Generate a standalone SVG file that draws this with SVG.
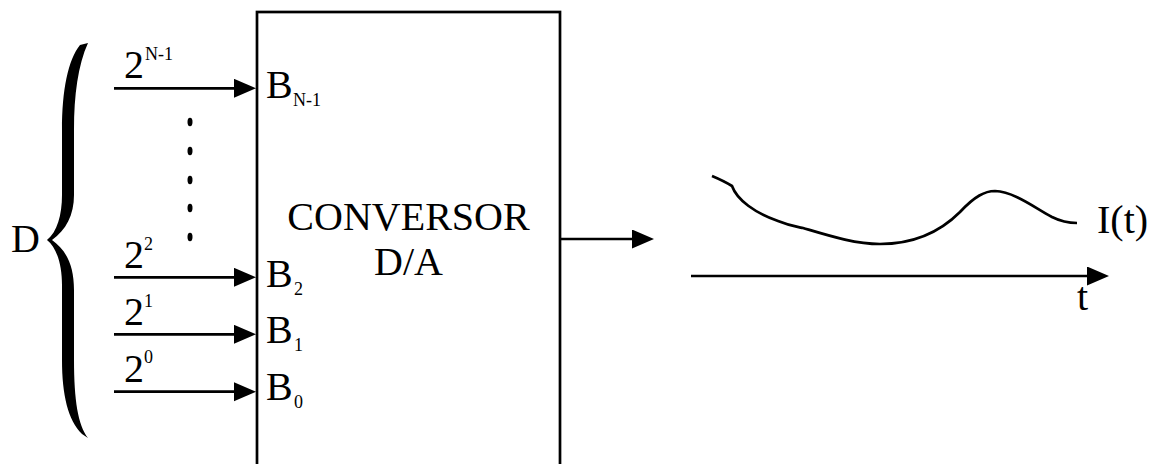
<svg xmlns="http://www.w3.org/2000/svg" width="1154" height="464" viewBox="0 0 1154 464">
  <style>
    text { font-family: Liberation Serif, "Times New Roman", Times, Tinos, "Nimbus Roman", "Noto Serif", FreeSerif, "DejaVu Serif", serif; fill: #000; }
    .big { font-size: 40px; }
    .small { font-size: 18px; }
    .wire { stroke: #000; stroke-width: 2.7; fill: none; }
  </style>
  <defs>
    <marker id="arrow" markerUnits="userSpaceOnUse" markerWidth="24" markerHeight="20" refX="14" refY="9.5" orient="auto">
      <path d="M0,0 L22,9.5 L0,19 Z" fill="#000"/>
    </marker>
  </defs>

  <rect width="1154" height="464" fill="#fff"/>

  <!-- brace grouping the input word D -->
  <g id="word-D">
    <path d="M80,45 C68,60 62,90 62,130 L62,195 C62,215 57,232 47,240 C57,248 62,265 62,285 L62,360 C62,395 68,420 82,434 L88,438 C78,425 74,400 74,360 L74,290 C74,265 66,250 52,240 C66,230 74,215 74,195 L74,130 C74,95 78,65 88,43 Z" fill="#000"/>
    <text class="big" x="11" y="252">D</text>
  </g>

  <!-- converter block -->
  <g id="converter">
    <rect x="257" y="12" width="303" height="470" fill="none" stroke="#000" stroke-width="2.7"/>
    <text class="big" x="408.5" y="230" text-anchor="middle">CONVERSOR</text>
    <text class="big" x="408.5" y="275" text-anchor="middle">D/A</text>
    <text class="big" x="266" y="98">B</text>
    <text class="small" x="293" y="106">N-1</text>
    <text class="big" x="266" y="287">B</text>
    <text class="small" x="294" y="295">2</text>
    <text class="big" x="266" y="343">B</text>
    <text class="small" x="294" y="351">1</text>
    <text class="big" x="266" y="400">B</text>
    <text class="small" x="294" y="408">0</text>
  </g>

  <!-- bit weights -->
  <g id="weights">
    <text class="big" x="124" y="78">2</text>
    <text class="small" x="145" y="60">N-1</text>
    <text class="big" x="124" y="268">2</text>
    <text class="small" x="144" y="250">2</text>
    <text class="big" x="124" y="325">2</text>
    <text class="small" x="144" y="307">1</text>
    <text class="big" x="124" y="382">2</text>
    <text class="small" x="144" y="363">0</text>
    <g fill="#000">
      <ellipse cx="190" cy="122" rx="2.5" ry="4.2"/>
      <ellipse cx="190" cy="151" rx="2.5" ry="4.2"/>
      <ellipse cx="190" cy="180" rx="2.5" ry="4.2"/>
      <ellipse cx="190" cy="208" rx="2.5" ry="4.2"/>
      <ellipse cx="190" cy="237" rx="2.5" ry="4.2"/>
    </g>
  </g>

  <!-- output signal plot -->
  <g id="output-signal">
    <path class="wire" stroke-width="2.5" d="M712,176 Q724,181 732,186 C737,200 755,213 778,221 C790,226 798,227 803,228 C830,236 855,244 880,244 C915,244 940,232 960,212 C975,196 985,191 995,191 C1015,192 1035,208 1052,217 C1062,222 1070,223 1077,223"/>
    <text class="big" x="1097" y="233">I(t)</text>
    <text class="big" x="1077" y="310">t</text>
  </g>

  <!-- connectors -->
  <g id="connectors">
    <line class="wire" x1="114" y1="88.3" x2="248" y2="88.3" marker-end="url(#arrow)"/>
    <line class="wire" x1="114" y1="277.3" x2="248" y2="277.3" marker-end="url(#arrow)"/>
    <line class="wire" x1="114" y1="334.3" x2="248" y2="334.3" marker-end="url(#arrow)"/>
    <line class="wire" x1="114" y1="391.7" x2="248" y2="391.7" marker-end="url(#arrow)"/>
    <line class="wire" x1="560" y1="239" x2="646" y2="239" marker-end="url(#arrow)"/>
    <line class="wire" x1="691" y1="276" x2="1101" y2="276" marker-end="url(#arrow)"/>
  </g>
</svg>
